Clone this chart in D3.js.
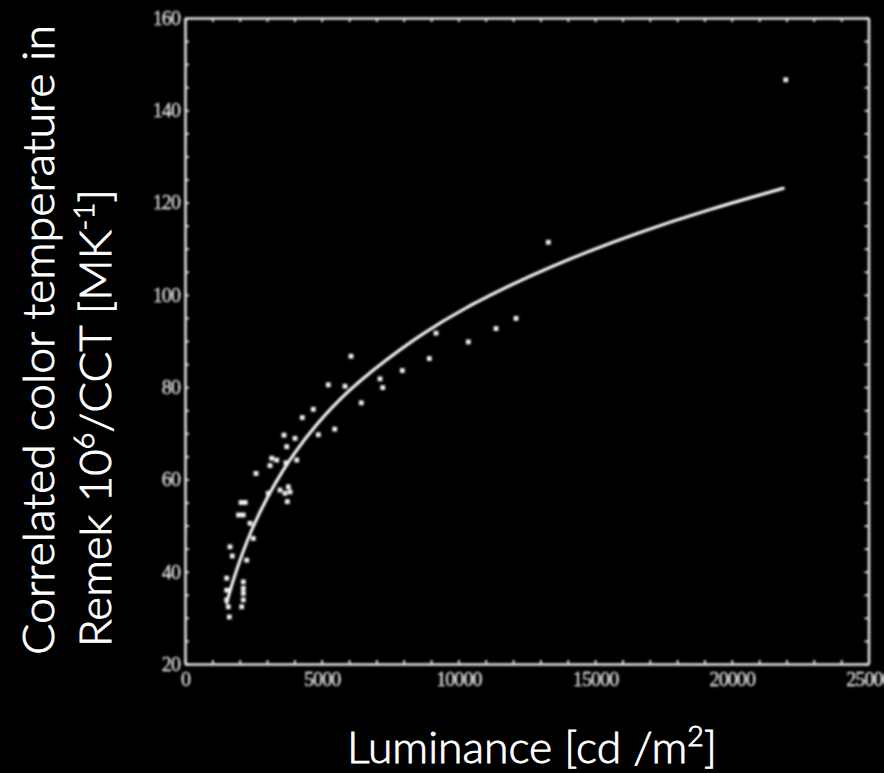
<!DOCTYPE html>
<html>
<head>
<meta charset="utf-8">
<script src="https://cdn.jsdelivr.net/npm/d3@7"></script>
<style>
  html, body { margin: 0; background: #000; }
  svg { display: block; }
</style>
</head>
<body>
<svg id="chart" width="884" height="773"></svg>
<script>
// Measured sky samples: luminance [cd/m²] and Remek 10^6/CCT [MK^-1]
const luminance = [
  9182, 11376, 10363, 8937, 7949, 7133, 7232, 6072, 6449, 5853,
  5242, 4693, 4291, 5476, 4876, 3621, 4024, 3720, 4086, 3171,
  3354, 3109, 3695, 2597, 3779, 3841, 3475, 3658, 3742, 3047,
  2050, 2200, 1960, 2130, 2378, 2498, 1646, 1730, 2257, 1525,
  2133, 1525, 2133, 2133, 1584, 2074, 1620, 1525, 2133, 13290,
  12108, 21974
];
const remek = [
  91.7, 92.7, 89.8, 86.2, 83.6, 81.8, 79.9, 86.7, 76.6, 80.2,
  80.5, 75.2, 73.4, 70.9, 69.7, 69.6, 68.9, 67.1, 64.2, 64.6,
  64.2, 63.0, 63.6, 61.3, 58.4, 57.3, 57.7, 57.0, 55.2, 57.0,
  55.0, 55.0, 52.3, 52.3, 50.5, 47.2, 45.4, 43.4, 42.5, 38.6,
  37.8, 36.0, 35.3, 33.9, 32.4, 32.4, 30.2, 33.9, 36.4, 111.4,
  94.9, 146.6
];

// Fitted regression curve
const fitLuminance = [1525, 1767, 2074, 2440, 3047, 3596, 3962, 4693, 5915, 7865, 10060, 13352, 16644, 19205, 21886];
const fitRemek     = [33.3, 38.3, 43.6, 49.3, 56.7, 62.1, 65.4, 71.2, 79.2, 88.4, 96.9, 106.3, 113.7, 118.6, 123.1];

// Axis ticks
const xDomain = [0, 25000];
const yDomain = [20, 160];
const xTickLabels = [0, 5000, 10000, 15000, 20000, 25000];
const yTickLabels = [20, 40, 60, 80, 100, 120, 140, 160];
const xMinorStep = 1000;
const yMinorStep = 5;

const svg = d3.select("#chart");
const W = 884, H = 773;

svg.append("rect").attr("width", W).attr("height", H).attr("fill", "#000");

const defs = svg.append("defs");
defs.append("filter").attr("id", "soft")
  .attr("x", "-5%").attr("y", "-5%").attr("width", "110%").attr("height", "110%")
  .append("feGaussianBlur").attr("stdDeviation", 0.8);

const x = d3.scaleLinear().domain(xDomain).range([185, 868.5]);
const y = d3.scaleLinear().domain(yDomain).range([664, 18]);

const plot = svg.append("g").attr("filter", "url(#soft)");

const lineColor = "#e8e8e8";
const xMinor = d3.range(xDomain[0], xDomain[1] + 1, xMinorStep);
const yMinor = d3.range(yDomain[0], yDomain[1] + 1, yMinorStep);

function styleAxis(g) {
  g.select(".domain").attr("stroke", lineColor).attr("stroke-width", 2.5);
  g.selectAll(".tick line").attr("stroke", lineColor).attr("stroke-width", 1.8);
  g.selectAll(".tick text")
    .attr("fill", "#e2e2e2")
    .attr("stroke", "#e2e2e2")
    .attr("stroke-width", 0.3)
    .attr("font-family", "'Liberation Serif', 'DejaVu Serif', serif")
    .attr("font-size", 20)
    .attr("letter-spacing", -0.9);
}

const fmtX = d => xTickLabels.includes(d) ? String(d) : "";
const fmtY = d => yTickLabels.includes(d) ? String(d) : "";

plot.append("g").attr("transform", `translate(0,${y(yDomain[0])})`)
  .call(d3.axisBottom(x).tickValues(xMinor).tickSize(-4).tickSizeOuter(0).tickPadding(8).tickFormat(fmtX))
  .call(styleAxis);
plot.append("g").attr("transform", `translate(0,${y(yDomain[1])})`)
  .call(d3.axisTop(x).tickValues(xMinor).tickSize(-4).tickSizeOuter(0).tickFormat(() => ""))
  .call(styleAxis);
plot.append("g").attr("transform", `translate(${x(xDomain[0])},0)`)
  .call(d3.axisLeft(y).tickValues(yMinor).tickSize(-4).tickSizeOuter(0).tickPadding(5).tickFormat(fmtY))
  .call(styleAxis);
plot.append("g").attr("transform", `translate(${x(xDomain[1])},0)`)
  .call(d3.axisRight(y).tickValues(yMinor).tickSize(-4).tickSizeOuter(0).tickFormat(() => ""))
  .call(styleAxis);

// Fitted curve
const fit = d3.zip(fitLuminance, fitRemek);
plot.append("path")
  .datum(fit)
  .attr("fill", "none")
  .attr("stroke", "#ffffff")
  .attr("stroke-width", 3)
  .attr("stroke-linecap", "round")
  .attr("d", d3.line().x(d => x(d[0])).y(d => y(d[1])).curve(d3.curveBasis));

// Sample points
const pts = d3.zip(luminance, remek);
const s = 4.8;
plot.append("g").selectAll("rect")
  .data(pts)
  .join("rect")
  .attr("x", d => x(d[0]) - s / 2)
  .attr("y", d => y(d[1]) - s / 2)
  .attr("width", s)
  .attr("height", s)
  .attr("fill", "#f2f2f2");

// Axis titles
const titleFont = "Lato, 'Open Sans', sans-serif";
const titleSize = 44;
const titleWeight = 300;

function squeeze(sel, target) {
  const w = sel.node().getComputedTextLength();
  return target / w;
}

function title() {
  return svg.append("text")
    .attr("font-family", titleFont)
    .attr("font-size", titleSize)
    .attr("font-weight", titleWeight)
    .attr("fill", "#ffffff")
    .attr("stroke", "#ffffff")
    .attr("stroke-width", 0.9)
    .attr("text-anchor", "middle");
}

const xTitle = title();
xTitle.append("tspan").text("Luminance [cd /m");
xTitle.append("tspan").attr("font-size", titleSize * 0.64).attr("dy", -17).text("2");
xTitle.append("tspan").attr("dy", 17).text("]");
const sx = squeeze(xTitle, 370);
xTitle.attr("transform", `translate(532,763) scale(${sx},1)`);

const y1 = title().text("Correlated color temperature in");
const s1 = squeeze(y1, 630);
y1.attr("transform", `translate(54,340) rotate(-90) scale(${s1},1)`);

const y2 = title();
y2.append("tspan").text("Remek 10");
y2.append("tspan").attr("font-size", titleSize * 0.64).attr("dy", -17).text("6");
y2.append("tspan").attr("dy", 17).text("/CCT [MK");
y2.append("tspan").attr("font-size", titleSize * 0.64).attr("dy", -17).text("-1");
y2.append("tspan").attr("dy", 17).text("]");
const s2 = squeeze(y2, 458);
y2.attr("transform", `translate(111,418) rotate(-90) scale(${s2},1)`);
</script>
</body>
</html>
